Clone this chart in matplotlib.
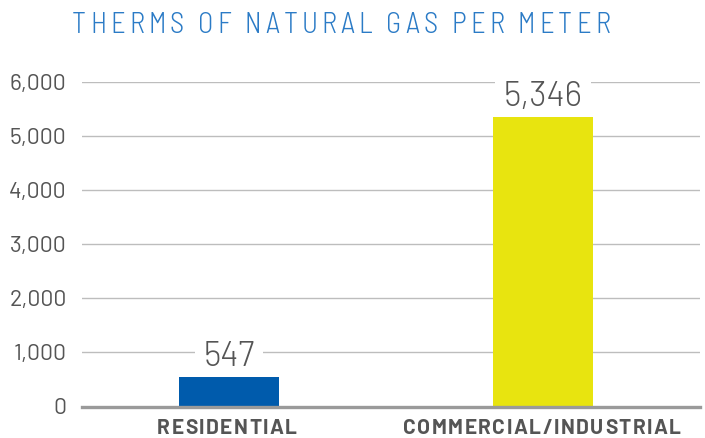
import matplotlib
matplotlib.use("Agg")
import matplotlib.pyplot as plt
from matplotlib import font_manager as fm

# ---- data ----
categories = ["RESIDENTIAL", "COMMERCIAL/INDUSTRIAL"]
values = [547, 5346]
value_labels = ["547", "5,346"]
bar_colors = ["#005BAC", "#E8E40F"]
yticks = [0, 1000, 2000, 3000, 4000, 5000, 6000]
ytick_labels = ["0", "1,000", "2,000", "3,000", "4,000", "5,000", "6,000"]
title = "THERMS OF NATURAL GAS PER METER"

W, H, DPI = 705, 438, 100
fig = plt.figure(figsize=(W / DPI, H / DPI), dpi=DPI)
ax = fig.add_axes([82 / W, (438 - 406.5) / H, (700 - 82) / W, (406.5 - 82) / H])

names = {f.name for f in fm.fontManager.ttflist}
main_font = "Barlow" if "Barlow" in names else "Lato"
cond_font = "Barlow Semi Condensed" if "Barlow Semi Condensed" in names else main_font

x = list(range(len(categories)))
ax.bar(x, values, width=0.318, color=bar_colors, zorder=3)
ax.set_xlim(-0.468, 1.5)
ax.set_ylim(0, 6000)

for yv in yticks[1:]:
    ax.axhline(yv, color="#bdbdbd", lw=1.0, zorder=1)
ax.axhline(0, color="#9a9a9a", lw=2.4, zorder=4, clip_on=False)

ax.set_yticks(yticks)
ax.set_yticklabels(ytick_labels, fontsize=16.5, color="#555555", family=main_font,
                   fontweight=400)
ax.tick_params(axis="y", length=0, pad=11)
ax.set_xticks([])
for s in ax.spines.values():
    s.set_visible(False)

for xi, v, lab in zip(x, values, value_labels):
    ax.annotate(lab, (xi, v), xytext=(0, 8), textcoords="offset points",
                ha="center", va="baseline", fontsize=24.5, color="#555555",
                family=main_font, fontweight=300, zorder=2,
                bbox=dict(boxstyle="square,pad=0.25", fc="white", ec="none"),
                annotation_clip=False)

renderer = fig.canvas.get_renderer()


def char_widths(s, **kw):
    ws = []
    for ch in s:
        if ch == " ":
            t1 = fig.text(0, 0, "x x", **kw)
            t2 = fig.text(0, 0, "xx", **kw)
            w = t1.get_window_extent(renderer).width - t2.get_window_extent(renderer).width
            t1.remove(); t2.remove()
        else:
            t = fig.text(0, 0, ch, **kw)
            w = t.get_window_extent(renderer).width
            t.remove()
        ws.append(w)
    return ws


def spaced(s, left_px, base_px, tracking, **kw):
    ws = char_widths(s, **kw)
    xpos = left_px
    for ch, w in zip(s, ws):
        if ch != " ":
            fig.text(xpos / W, base_px / H, ch, ha="left", va="baseline", **kw)
        xpos += w + tracking


def total_width(s, tracking, **kw):
    ws = char_widths(s, **kw)
    return sum(ws) + tracking * (len(s) - 1)


# title
tkw = dict(fontsize=20.5, color="#2B7BC6", family=cond_font, fontweight=300,
           fontstretch="semi-condensed")
ws = char_widths(title, **tkw)
trk = (538 - sum(ws)) / (len(title) - 1)
spaced(title, 72, H - 33.3, trk, **tkw)

# category labels
ckw = dict(fontsize=15, color="#555555", family=main_font, fontweight=700)
ws0 = char_widths(categories[0], **ckw)
ctrk = (140 - sum(ws0)) / (len(categories[0]) - 1)
centers = [227, 542]
for c, cx in zip(categories, centers):
    tw = total_width(c, ctrk, **ckw)
    spaced(c, cx - tw / 2, 3.5, ctrk, **ckw)

fig.savefig("out.png", dpi=DPI)
